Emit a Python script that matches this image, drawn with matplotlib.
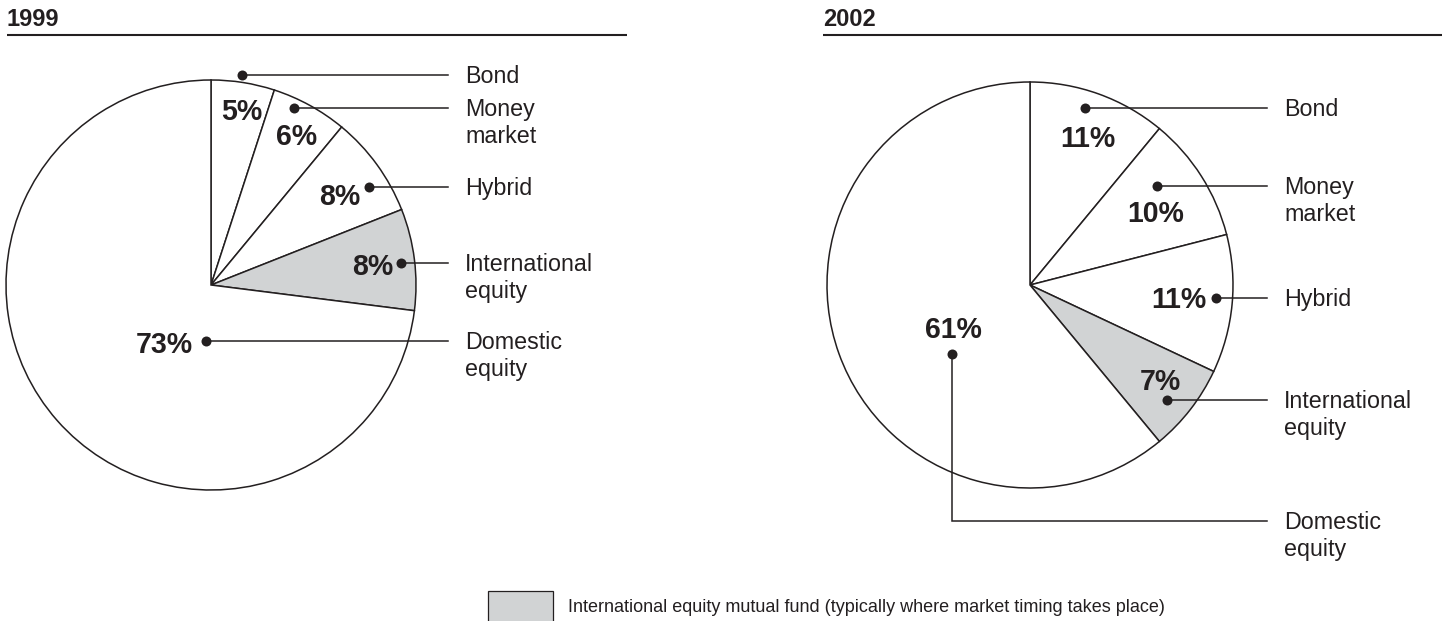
import matplotlib
matplotlib.use('Agg')
import matplotlib.pyplot as plt
from matplotlib.patches import Rectangle

# ---------------- data ----------------
categories = ['Bond', 'Money\nmarket', 'Hybrid', 'International\nequity', 'Domestic\nequity']
shares_1999 = [5, 6, 8, 8, 73]
shares_2002 = [11, 10, 11, 7, 61]
years = ['1999', '2002']
highlight = 'International\nequity'
legend_text = 'International equity mutual fund (typically where market timing takes place)'

# ---------------- layout (pixels, measured from top-left) ----------------
W, H = 1444, 621
INK = '#231f20'
GRAY = '#d1d3d4'

plt.rcParams['font.family'] = ['Liberation Sans', 'DejaVu Sans']

fig = plt.figure(figsize=(W / 100, H / 100), dpi=100)
ax = fig.add_axes([0, 0, 1, 1])


def Y(y):
    return H - y


panels = [
    dict(values=shares_1999, year=years[0], center=(211, 285), radius=205,
         title_x=7, rule=(7, 627), label_x=465, lead_end=448,
         dots=[(242, 75), (294, 108), (369, 187), (401, 263), (206, 341)],
         pcts=[(242, 110), (297, 135), (340, 195), (373, 265), (164, 343)],
         label_y=[75, 108, 187, 263, 341]),
    dict(values=shares_2002, year=years[1], center=(1030, 285), radius=203,
         title_x=823, rule=(823, 1442), label_x=1284, lead_end=1267,
         dots=[(1085, 108), (1157, 186), (1216, 298), (1167, 400), (952, 354)],
         pcts=[(1088, 137), (1156, 212), (1179, 298), (1160, 380), (953, 328)],
         label_y=[108, 186, 298, 400, 521]),
]

LABEL_PX = 23.3
PCT_PX = 28.5
TITLE_PX = 23.6
LEG_PX = 18.0
CAPC = 0.358   # cap-centre above baseline, in em
LINE_STEP = 27  # baseline-to-baseline of two-line labels, px

colors = [GRAY if c == highlight else 'white' for c in categories]

for p in panels:
    cx, cy = p['center']
    ax.pie(p['values'], colors=colors, startangle=90, counterclock=False,
           center=(cx, Y(cy)), radius=p['radius'],
           wedgeprops=dict(edgecolor=INK, linewidth=1.1))
    # title and rule
    ax.text(p['title_x'], Y(17.5 + CAPC * TITLE_PX), p['year'], ha='left', va='baseline',
            fontsize=TITLE_PX * 0.72, fontweight='bold', color=INK)
    ax.plot(list(p['rule']), [Y(35), Y(35)], color=INK, lw=1.5, solid_capstyle='butt')
    for cat, val, (dx, dy), (px, py), ly in zip(categories, p['values'], p['dots'],
                                                 p['pcts'], p['label_y']):
        # leader
        ax.plot([dx, dx, p['lead_end']], [Y(dy), Y(ly), Y(ly)], color=INK, lw=1.1,
                solid_joinstyle='miter')
        ax.plot([dx], [Y(dy)], 'o', color=INK, ms=7.2, mew=0)
        # percentage
        ax.text(px, Y(py + CAPC * PCT_PX), f'{val}%', ha='center', va='baseline',
                fontsize=PCT_PX * 0.72, fontweight='bold', color=INK)
        # category label (baseline of last line is anchored)
        nextra = cat.count('\n')
        ax.text(p['label_x'], Y(ly + CAPC * LABEL_PX + nextra * LINE_STEP), cat,
                ha='left', va='baseline',
                fontsize=LABEL_PX * 0.72, color=INK, linespacing=1.25)

# legend swatch
ax.add_patch(Rectangle((488, Y(625)), 65, 34, facecolor=GRAY, edgecolor=INK, lw=0.9))
ax.text(568, Y(606 + CAPC * LEG_PX), legend_text, ha='left', va='baseline',
        fontsize=LEG_PX * 0.72, color=INK)

ax.set_xlim(0, W)
ax.set_ylim(0, H)
ax.set_aspect('equal')
ax.axis('off')

fig.savefig('out.png', dpi=100, facecolor='white')
